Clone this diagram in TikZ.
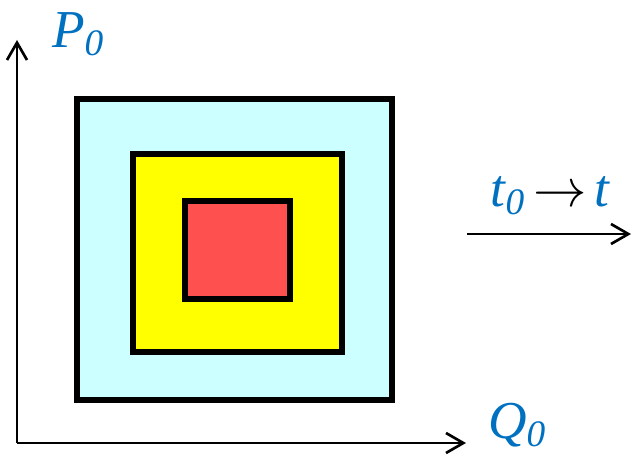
\RequirePackage{fix-cm}
\documentclass[tikz,border=0pt]{standalone}
\usepackage{fontspec}
\setmainfont{Liberation Serif}
\usetikzlibrary{arrows.meta, positioning}
\definecolor{labelblue}{RGB}{0,112,192}
\definecolor{outercyan}{RGB}{204,255,255}
\definecolor{midyellow}{RGB}{255,255,0}
\definecolor{innerred}{RGB}{255,80,80}
\tikzset{
  region/.style={draw=black, line width=3.8pt, inner sep=0pt},
  axis/.style={-{Straight Barb[length=13pt, width=15pt]}, line width=2pt, black},
  lbl/.style={font=\fontsize{40}{44}\selectfont\itshape, text=labelblue, inner sep=0pt},
}

\begin{document}
\begin{tikzpicture}[x=0.75pt, y=-0.75pt]
\useasboundingbox (0,0) rectangle (631,456);

% --- Regions ---
\node[region, fill=outercyan, minimum width=315*0.75pt, minimum height=301*0.75pt]
    (outer) at (234.5, 249.5) {};
\node[region, fill=midyellow, minimum width=209*0.75pt, minimum height=198*0.75pt]
    (middle) at (237.5, 253) {};
\node[region, fill=innerred, minimum width=105*0.75pt, minimum height=98*0.75pt]
    (inner) at (237.5, 250) {};

% --- Axes ---
\coordinate (origin) at (17, 443);
\coordinate (ptop) at (17, 40);
\coordinate (qend) at (466, 443);
\draw[axis] (origin) -- (ptop);
\draw[axis] (origin) -- (qend);

\node[lbl] (plabel) at (78, 34) {P\textsubscript{0}};
\node[lbl] (qlabel) at (517, 425) {Q\textsubscript{0}};

% --- Time evolution ---
\coordinate (tstart) at (467, 234);
\coordinate (tend) at (631, 234);
\draw[axis] (tstart) -- (tend);
\node[lbl] (tlabel) at (550, 196)
    {t\textsubscript{0}\hspace{0.15em}{\color{black}$\rightarrow$}\hspace{0.15em}t};

\end{tikzpicture}
\end{document}
